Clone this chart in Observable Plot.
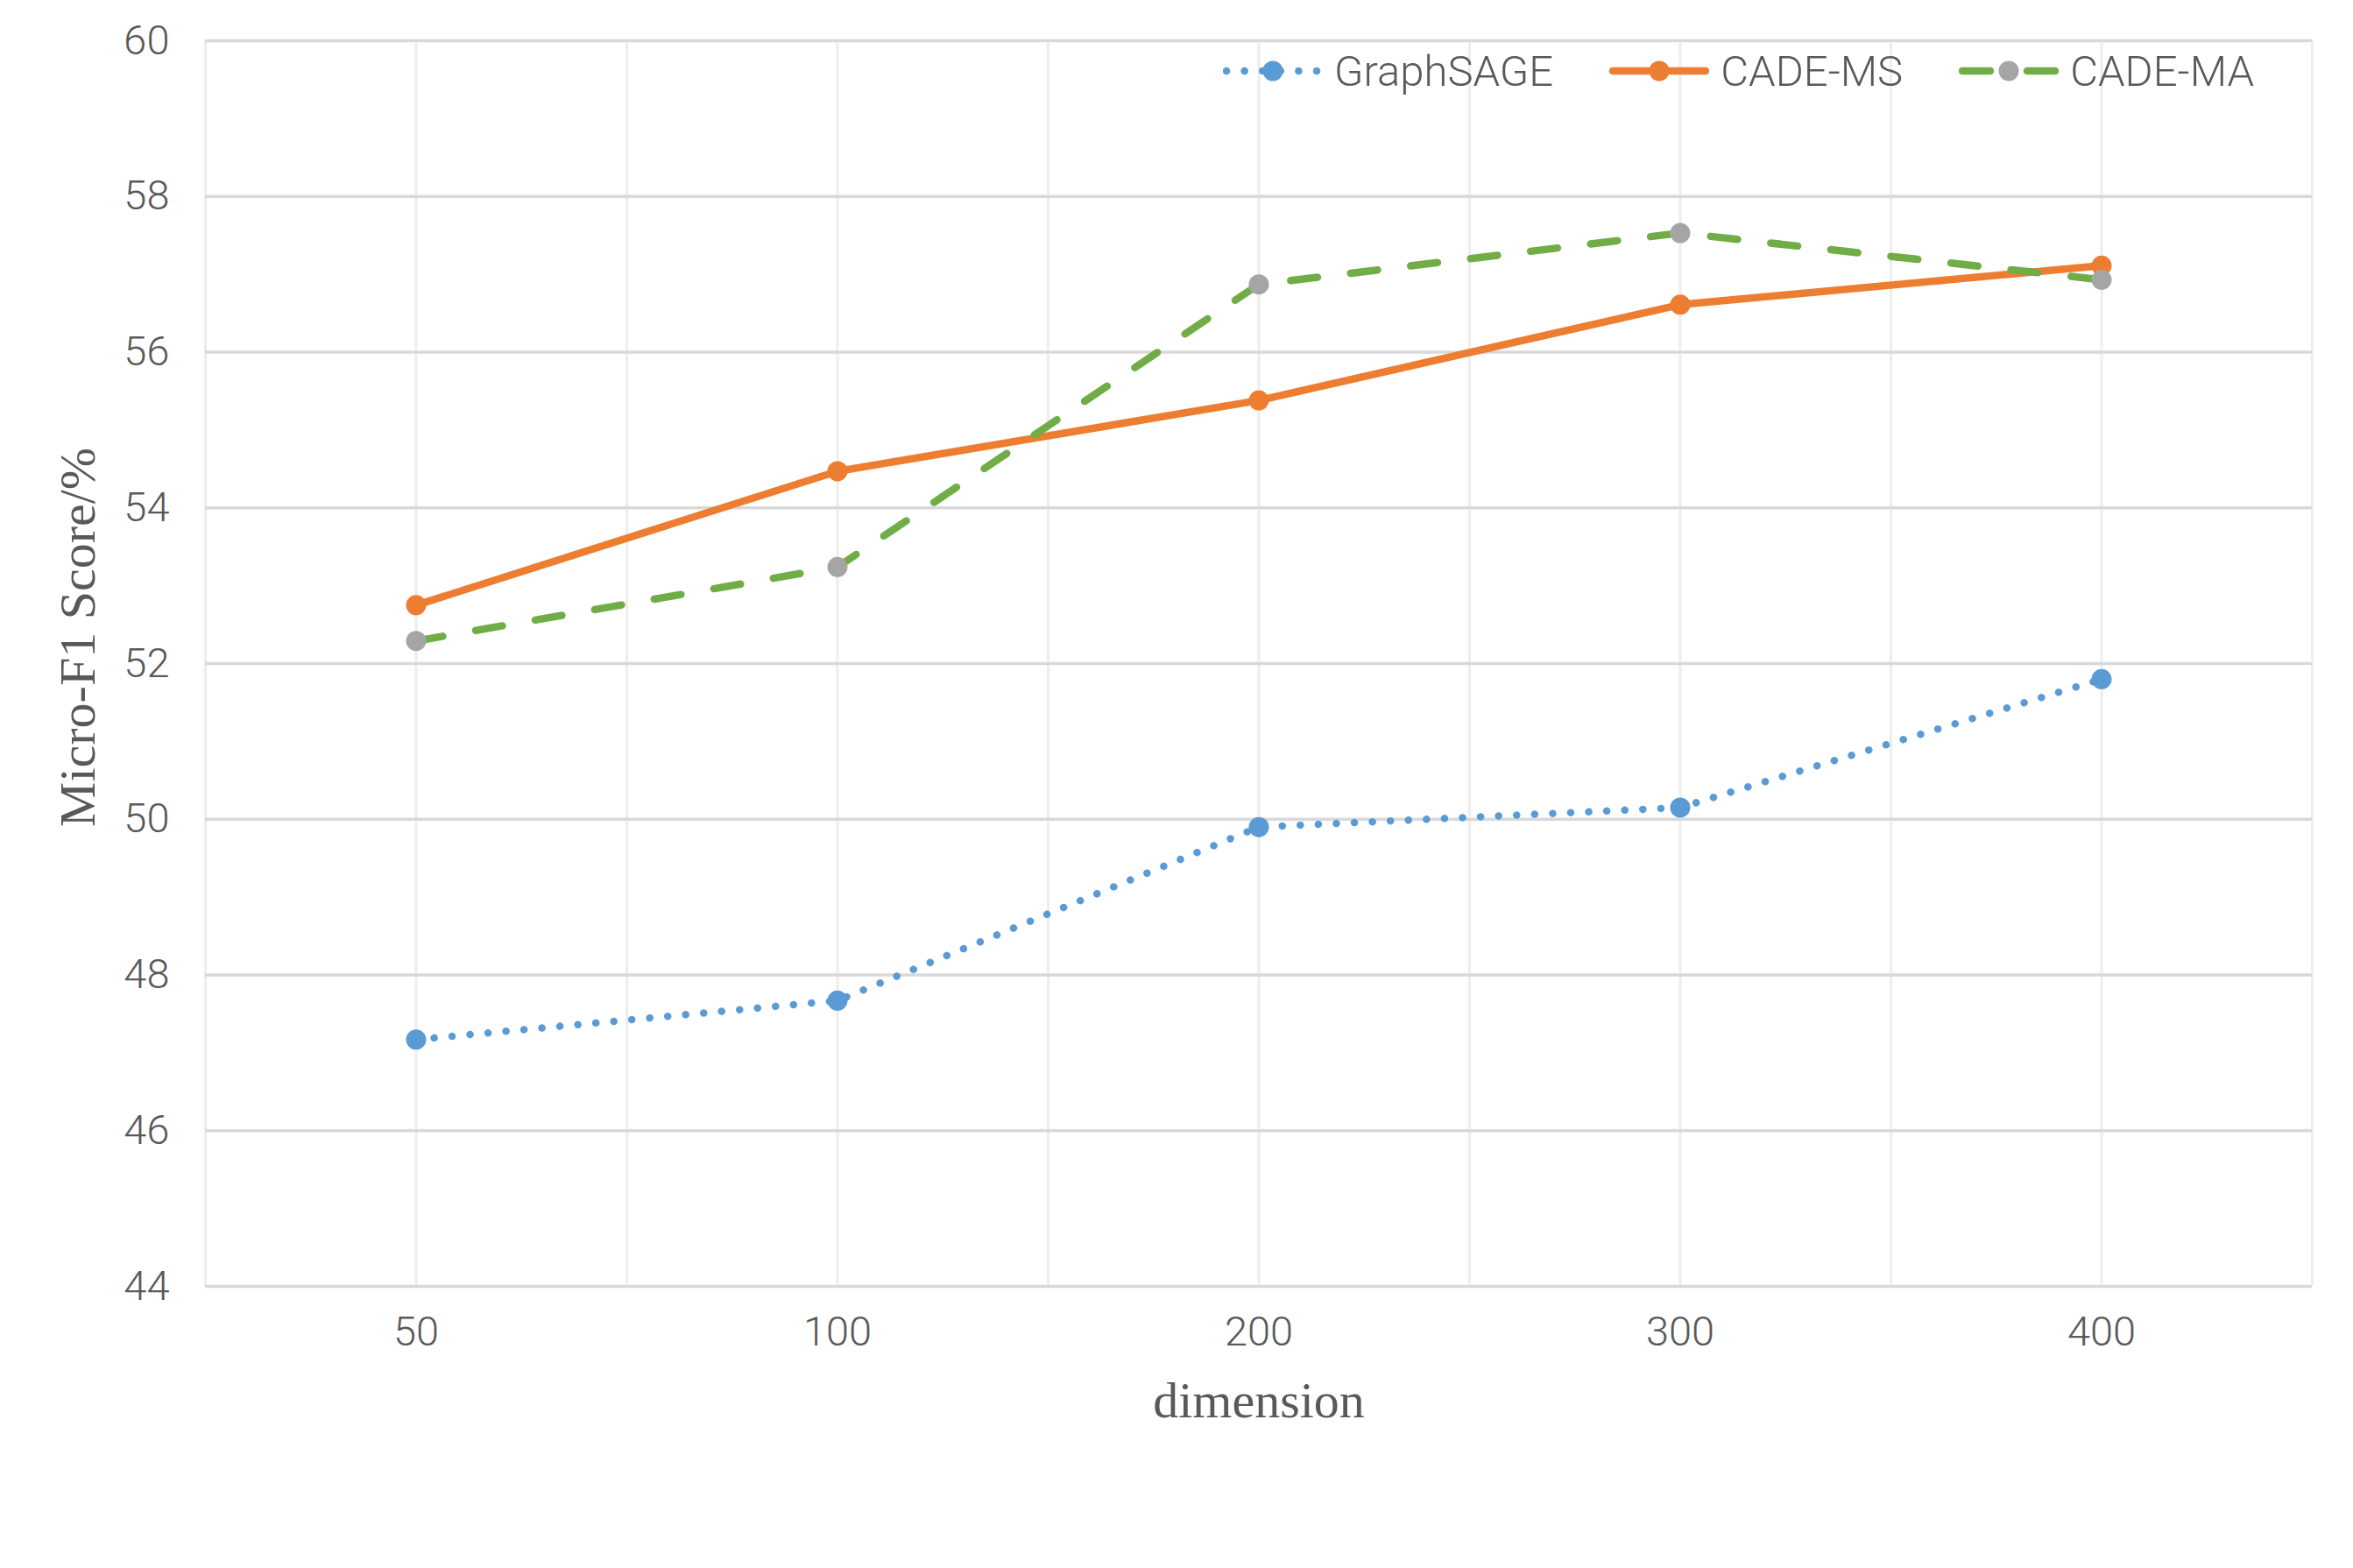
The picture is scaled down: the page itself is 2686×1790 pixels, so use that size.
<!DOCTYPE html>
<html><head><meta charset="utf-8">
<script src="https://cdn.jsdelivr.net/npm/d3@7"></script>
<script src="https://cdn.jsdelivr.net/npm/@observablehq/plot@0.6"></script>
<style>
html,body{margin:0;padding:0;background:#fff;}
#wrap{position:relative;width:2686px;height:1790px;}
#wrap svg.plot{display:block;}
#legend{position:absolute;left:1396px;top:51px;height:60px;display:flex;align-items:center;font-family:Roboto;font-weight:300;font-size:49px;color:#595959;white-space:nowrap;}
.item{display:flex;align-items:center;}
.item svg{display:block;}
.item span{margin-left:13px;margin-right:64px;}
</style></head><body><div id="wrap"><div id="legend"></div></div>
<script>
// ---- data ----
const dims = ["50", "100", "200", "300", "400"];
const seriesNames = ["GraphSAGE", "CADE-MS", "CADE-MA"];
const graphSAGE = [47.17, 47.67, 49.90, 50.15, 51.80];
const cadeMS = [52.75, 54.47, 55.38, 56.61, 57.11];
const cadeMA = [52.29, 53.24, 56.87, 57.53, 56.93];
const yTicks = [44, 46, 48, 50, 52, 54, 56, 58, 60];
const xTitle = "dimension";
const yTitle = "Micro-F1 Score/%";

// ---- styles ----
const styles = {
  "GraphSAGE": {stroke: "#5B9BD5", marker: "#5B9BD5", dash: "0.1,20.5", width: 8.5},
  "CADE-MS": {stroke: "#ED7D31", marker: "#ED7D31", dash: null, width: 8.5},
  "CADE-MA": {stroke: "#70AD47", marker: "#A5A5A5", dash: "31,38", width: 8.5}
};
const valuesByName = {"GraphSAGE": graphSAGE, "CADE-MS": cadeMS, "CADE-MA": cadeMA};

const rows = name => dims.map((d, i) => ({i, dim: d, v: valuesByName[name][i], name}));

const seriesMarks = seriesNames.flatMap(name => {
  const s = styles[name];
  const data = rows(name);
  return [
    Plot.line(data, {x: "i", y: "v", stroke: s.stroke, strokeWidth: s.width,
      strokeDasharray: s.dash, strokeLinecap: "round", strokeLinejoin: "round", curve: "linear"}),
    Plot.dot(data, {x: "i", y: "v", r: 11.5, fill: s.marker, stroke: "none"})
  ];
});

const chart = Plot.plot({
  width: 2686, height: 1790,
  marginLeft: 234, marginRight: 47, marginTop: 46, marginBottom: 322,
  style: {fontFamily: "Roboto", fontWeight: 300, background: "#fff", overflow: "visible"},
  x: {type: "linear", domain: [-0.5, dims.length - 0.5]},
  y: {domain: [44, 60]},
  marks: [
    Plot.gridX(d3.range(-0.5, dims.length, 0.5), {stroke: "#EDEDED", strokeOpacity: 1, strokeWidth: 3}),
    Plot.gridY(yTicks, {stroke: "#D9D9D9", strokeOpacity: 1, strokeWidth: 3.5}),
    Plot.axisY(yTicks, {tickFormat: d3.format("d"), tickSize: 0, tickPadding: 41, fontSize: 47, color: "#595959", label: null}),
    Plot.axisX(d3.range(dims.length), {tickFormat: i => dims[i], tickSize: 0, tickPadding: 34, fontSize: 47, color: "#595959", label: null}),
    ...seriesMarks,
    Plot.text([xTitle], {text: d => d, frameAnchor: "bottom", dy: 149, fontFamily: "Liberation Serif", fontWeight: 400, fontSize: 58, fill: "#595959"}),
    Plot.text([yTitle], {text: d => d, frameAnchor: "left", textAnchor: "middle", dx: -145, dy: -30, rotate: -90, fontFamily: "Liberation Serif", fontWeight: 400, fontSize: 58, fill: "#595959"})
  ]
});
chart.classList.add("plot");
document.getElementById("wrap").prepend(chart);

// ---- legend ----
const legend = document.getElementById("legend");
for (const name of seriesNames) {
  const s = styles[name];
  const item = document.createElement("div");
  item.className = "item";
  const dash = s.dash ? (name === "CADE-MA" ? "32,42" : s.dash) : "none";
  item.innerHTML = `<svg width="114" height="30" viewBox="0 0 114 30">
    <line x1="4" y1="15" x2="110" y2="15" stroke="${s.stroke}" stroke-width="${s.width}" stroke-linecap="round" stroke-dasharray="${dash}"/>
    <circle cx="57" cy="15" r="11.5" fill="${s.marker}"/></svg><span>${name}</span>`;
  legend.appendChild(item);
}
</script></body></html>
